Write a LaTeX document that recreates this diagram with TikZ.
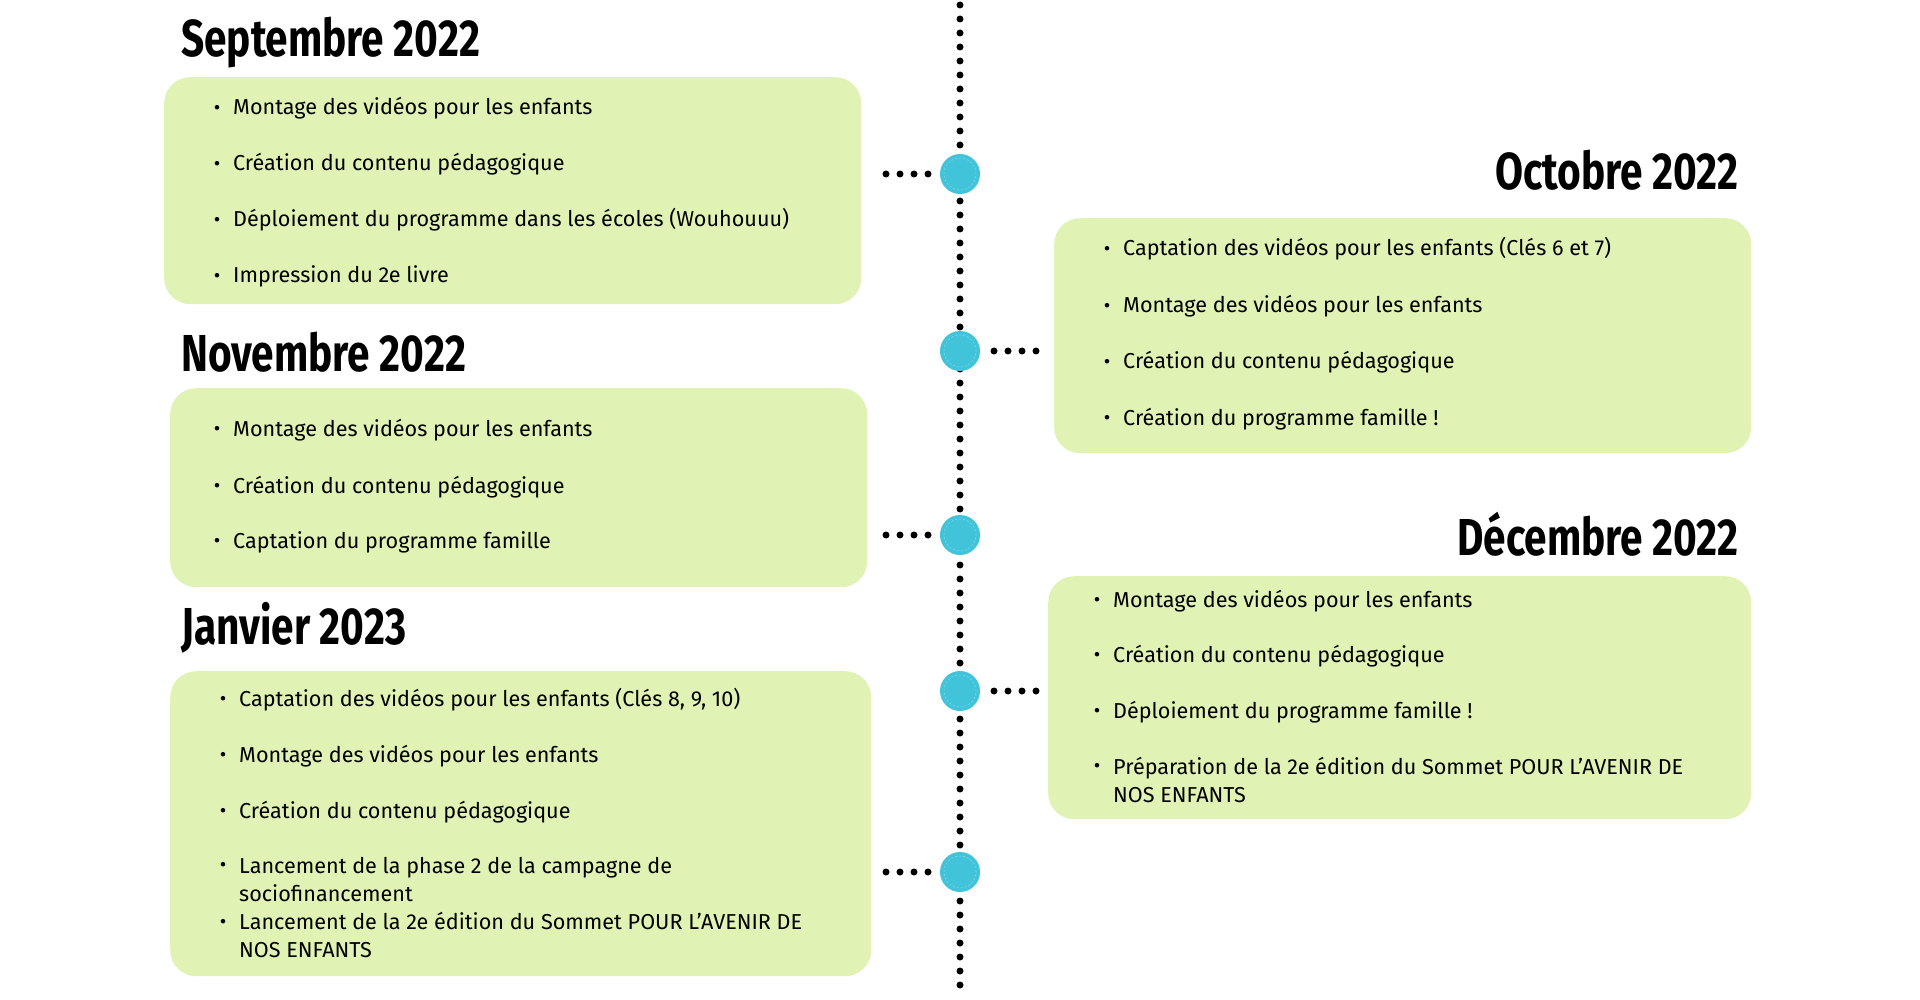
\documentclass[tikz,border=0pt]{standalone}
\usepackage{fontspec}
\setmainfont{Fira Sans}
\newfontfamily\titlefont{Fira Sans}
\definecolor{boxgreen}{HTML}{E0F2B4}
\definecolor{dotcyan}{HTML}{41C3D9}
\begin{document}
\begin{tikzpicture}[x=1pt,y=-1pt,
  month/.style={font=\titlefont\bfseries\fontsize{52}{52}\selectfont, inner sep=0pt},
  panel/.style={fill=boxgreen, rounded corners=26pt, inner sep=0pt, anchor=north west},
  entry/.style={font=\fontsize{21.6}{28}\selectfont, inner sep=0pt, anchor=west, align=left, text height=15pt, text depth=5pt},
  bul/.style={font=\fontsize{20}{20}\selectfont, inner sep=0pt},
  hub/.style={circle, fill=dotcyan, minimum size=40pt, inner sep=0pt},
  dotline/.style={line width=7pt, line cap=round, dash pattern=on 0pt off 14pt}
]
\useasboundingbox (0,0) rectangle (1920,1000);

% timeline
\coordinate (ttop) at (960,5);
\coordinate (tbot) at (960,991);
\draw[dotline] (ttop) -- (tbot);

% panels
\node[panel, minimum width=697pt, minimum height=227pt] (sep) at (164,77) {};
\node[panel, minimum width=697pt, minimum height=235pt] (oct) at (1054,218) {};
\node[panel, minimum width=697pt, minimum height=199pt] (nov) at (170,388) {};
\node[panel, minimum width=703pt, minimum height=243pt] (dec) at (1048,576) {};
\node[panel, minimum width=701pt, minimum height=305pt] (jan) at (170,671) {};

% titles
\node[month, anchor=base west] (tsep) at (181,57) {\scalebox{0.78}[1]{Septembre 2022}};
\node[month, anchor=base east] (toct) at (1739,190) {\scalebox{0.78}[1]{Octobre 2022}};
\node[month, anchor=base west] (tnov) at (181,371) {\scalebox{0.78}[1]{Novembre 2022}};
\node[month, anchor=base east] (tdec) at (1739,555) {\scalebox{0.78}[1]{Décembre 2022}};
\node[month, anchor=base west] (tjan) at (181,644) {\scalebox{0.78}[1]{Janvier 2023}};

% hubs
\node[hub] (h1) at (960,174) {};
\node[hub] (h2) at (960,351) {};
\node[hub] (h3) at (960,535) {};
\node[hub] (h4) at (960,691) {};
\node[hub] (h5) at (960,872) {};
\foreach \h in {h1,h2,h3,h4,h5}{
  \draw[white, opacity=0.35, line width=0.6pt, dash pattern=on 2pt off 2pt] (\h.center) circle (16pt);
}

% stubs
\coordinate (s1) at (886,174);
\coordinate (s2) at (1036,351);
\coordinate (s3) at (886,535);
\coordinate (s4) at (1036,691);
\coordinate (s5) at (886,872);
\draw[dotline] (s1) -- (h1.west);
\draw[dotline] (s2) -- (h2.east);
\draw[dotline] (s3) -- (h3.west);
\draw[dotline] (s4) -- (h4.east);
\draw[dotline] (s5) -- (h5.west);

% September
\foreach \y/\t [count=\i] in {110/{Montage des vidéos pour les enfants},
  166/{Création du contenu pédagogique},
  222/{Déploiement du programme dans les écoles (Wouhouuu)},
  278/{Impression du 2e livre}}{
  \node[bul] (sepb\i) at (217,\y) {•};
  \node[entry] (sepi\i) at (233,\y) {\t};
}

% October
\foreach \y/\t [count=\i] in {251/{Captation des vidéos pour les enfants (Clés 6 et 7)},
  308/{Montage des vidéos pour les enfants},
  364/{Création du contenu pédagogique},
  420/{Création du programme famille !}}{
  \node[bul] (octb\i) at (1107,\y) {•};
  \node[entry] (octi\i) at (1123,\y) {\t};
}

% November
\foreach \y/\t [count=\i] in {431/{Montage des vidéos pour les enfants},
  488/{Création du contenu pédagogique},
  543/{Captation du programme famille}}{
  \node[bul] (novb\i) at (217,\y) {•};
  \node[entry] (novi\i) at (233,\y) {\t};
}

% December
\foreach \y/\t [count=\i] in {602/{Montage des vidéos pour les enfants},
  657/{Création du contenu pédagogique},
  713/{Déploiement du programme famille !}}{
  \node[bul] (decb\i) at (1097,\y) {•};
  \node[entry] (deci\i) at (1113,\y) {\t};
}
\node[bul] (decb4) at (1097,768) {•};
\node[entry] (deci4) at (1113,797) {Préparation de la 2e édition du Sommet POUR L'AVENIR DE\\NOS ENFANTS};

% January
\foreach \y/\t [count=\i] in {701/{Captation des vidéos pour les enfants (Clés 8, 9, 10)},
  757/{Montage des vidéos pour les enfants},
  813/{Création du contenu pédagogique}}{
  \node[bul] (janb\i) at (223,\y) {•};
  \node[entry] (jani\i) at (239,\y) {\t};
}
\node[bul] (janb4) at (223,867) {•};
\node[entry] (jani4) at (239,896) {Lancement de la phase 2 de la campagne de\\sociofinancement};
\node[bul] (janb5) at (223,924) {•};
\node[entry] (jani5) at (239,952) {Lancement de la 2e édition du Sommet POUR L'AVENIR DE\\NOS ENFANTS};
\end{tikzpicture}
\end{document}
